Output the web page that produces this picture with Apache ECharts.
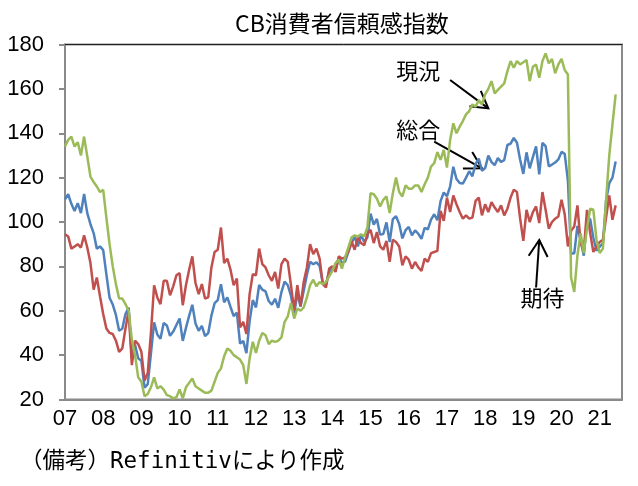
<!DOCTYPE html>
<html>
<head>
<meta charset="utf-8">
<script src="https://cdn.jsdelivr.net/npm/echarts@6/dist/echarts.min.js"></script>
<style>
  html, body { margin: 0; padding: 0; background: #fff; }
  #main { width: 638px; height: 486px; }
</style>
</head>
<body>
<div id="main"></div>
<script>
// 年ラベル（x軸）
const years = ['07', '08', '09', '10', '11', '12', '13', '14', '15', '16', '17', '18', '19', '20', '21'];
const yTicks = [20, 40, 60, 80, 100, 120, 140, 160, 180];

// 月次 2007/1 - 2021/6
// 総合
const sogo = [
  110.2, 112.5, 108.2, 105, 108.5, 104, 112.6, 104, 99, 95, 88, 89,
  87.3, 76.4, 65.9, 62.8, 58.1, 51.0, 51.9, 58.5, 61.4, 38.8, 44.7, 38.6,
  37.4, 25.3, 26.9, 40.8, 54.8, 49.3, 47.4, 54.5, 53.4, 48.7, 50.6, 53.6,
  56.5, 46.4, 52.3, 57.7, 62.7, 54.3, 51.0, 53.2, 48.6, 49.9, 57.8, 63.4,
  64.8, 72.0, 63.8, 66.0, 61.7, 57.6, 59.2, 45.2, 46.4, 40.9, 55.2, 64.8,
  61.5, 71.6, 69.5, 68.7, 64.4, 62.7, 65.4, 61.3, 68.4, 73.1, 71.5, 66.7,
  58.4, 68.0, 61.9, 69.0, 76.2, 82.1, 81.0, 81.8, 80.2, 72.4, 72.0, 77.5,
  79.4, 78.3, 83.9, 81.7, 82.2, 86.4, 90.3, 93.4, 89.0, 94.1, 91.0, 93.1,
  103.8, 98.8, 101.4, 94.3, 94.6, 99.8, 91.0, 101.3, 102.6, 99.1, 92.6, 96.3,
  97.8, 94.0, 96.2, 94.7, 92.4, 97.4, 96.7, 101.1, 103.5, 100.8, 109.4, 113.3,
  111.6, 116.1, 124.9, 119.4, 117.6, 117.3, 120.0, 122.9, 120.6, 126.2, 128.6, 123.1,
  124.3, 130.0, 127.0, 125.6, 128.8, 127.1, 127.9, 134.7, 135.3, 137.9, 135.7, 128.1,
  121.7, 131.4, 124.2, 129.2, 134.1, 121.5, 135.7, 134.2, 125.1, 125.9, 126.8, 128.2,
  131.6, 130.7, 118.8, 85.7, 85.9, 98.3, 91.7, 84.8, 101.3, 101.4, 92.9, 87.1,
  88.9, 90.4, 109.7, 117.5, 120.0, 127.3
];
// 期待
const kitai = [
  94.5, 93.5, 88, 89, 90, 88.5, 94, 88.5, 81.5, 69.5, 75, 66.5,
  58.5, 52, 50, 49.5, 46.5, 41.5, 43, 52, 60, 35.5, 46.5, 45,
  41.5, 28.5, 32, 50, 71.5, 66, 63, 73.5, 73.5, 67, 71, 76,
  77, 62.5, 71.5, 78.5, 84.5, 72.5, 67.5, 72, 65.5, 66, 79.5, 86.5,
  87.5, 97.5, 81.5, 83.5, 78.5, 71.5, 74.5, 52.5, 55, 49.5, 67.5, 76.5,
  76, 88, 81, 79.5, 76, 73.5, 77.5, 70, 81, 83.5, 82, 71.5,
  60, 71.5, 62, 73, 79.5, 90, 85.5, 88, 83.5, 72, 70.5, 79,
  80, 77.5, 84.5, 83.5, 84, 86.5, 91.5, 87.5, 93, 90.5, 89.5, 94.5,
  96.5, 90.5, 95.5, 89, 87.5, 91.5, 82, 92, 91, 89, 80.5, 84.5,
  83, 79, 82, 79.5, 78, 83.5, 82, 86, 86.5, 87, 105, 100.5,
  111, 104.5, 112, 108, 104.5, 101.5, 103, 101.5, 102, 109.5, 111, 103,
  108, 104.5, 109, 106.5, 104.5, 107.5, 103, 106, 111, 114.5, 113.5, 101.5,
  91.5, 105.5, 100, 104.5, 107, 99.5, 113.5, 105.5, 97, 100, 101.5, 102.5,
  110, 103.5, 89, 96, 98, 107.5, 90.5, 87, 105.5, 95, 86.5, 89,
  91, 92, 102, 112, 101, 107.5
];
// 現況
const genkyo = [
  134, 137, 138.5, 134, 136, 130, 138.5, 129.5, 120.5, 118, 116, 113.5,
  114.5, 102, 90, 80, 72, 65.5, 65.5, 63, 60, 47, 40, 30,
  28, 21.5, 22.5, 25.5, 30, 25, 26, 24.5, 22, 21.5, 20.5, 21,
  24.5, 20.5, 25.5, 27.5, 29.5, 26, 25, 24, 23, 23, 24, 28,
  32, 34, 39.5, 43, 42, 40, 39, 38, 35.5, 27, 38.5, 46,
  41, 46.5, 50, 49, 45, 46.5, 46, 46.5, 48, 55, 57.5, 63.5,
  56.5, 61, 60, 61.5, 66, 71.5, 74, 71, 73, 72, 73, 75.5,
  78, 81.5, 83, 79, 84, 88.5, 93, 94, 93.5, 94.5, 93.5, 97.5,
  113, 112.5, 110.5, 107, 110, 111.5, 104, 113, 120, 113.5, 111.5, 116.5,
  115, 115, 116.5, 116.5, 113.5, 117, 120, 125, 126.5, 131.5, 128, 132.5,
  124.5, 137, 144.5, 140, 143, 145.5, 148.5, 150, 153, 152, 155, 153,
  157.5, 160, 163.5, 158, 159.5, 161, 162.5, 168, 172.5, 169.5, 172.5, 171,
  172, 173, 163.5, 170, 171, 165, 172.5, 176, 171.5, 173.5, 167, 171,
  173.5, 168.5, 166.5, 75, 68.5, 85, 95, 86, 97, 106, 105.5, 92,
  86, 88, 110, 130, 144, 157.5
];

// 軸は2021/8まで
const months = [];
years.forEach(function (y) {
  for (let m = 1; m <= 12; m++) months.push(y + '/' + m);
});
const categories = months.slice(0, 14 * 12 + 8);

// 注記（データ座標：[月index, 値]）
const notes = [
  { text: '現況', at: [110.6, 168.1], tail: [121, 164], tip: [132.5, 151.2] },
  { text: '総合', at: [110.6, 141.5], tail: [116.2, 136.2], tip: [131.4, 124.2] },
  { text: '期待', at: [150.2, 65.8], tail: [148.2, 70.5], tip: [148.7, 91.9] }
];

const numFont = "'Liberation Sans', Arial, sans-serif";
const jpFont = "'Noto Sans CJK JP', sans-serif";

const chart = echarts.init(document.getElementById('main'), null, { renderer: 'canvas' });

const option = {
  animation: false,
  backgroundColor: '#fff',
  title: {
    text: 'CB消費者信頼感指数',
    left: 230,
    top: 7,
    textStyle: { fontFamily: jpFont, fontSize: 23, fontWeight: 'normal', color: '#000' }
  },
  grid: {
    left: 65, right: 16, top: 44.5, bottom: 86.5,
    show: true, borderColor: '#8a8a8a', borderWidth: 2, backgroundColor: 'transparent'
  },
  xAxis: [{
    type: 'category',
    data: categories,
    boundaryGap: false,
    axisLine: { lineStyle: { color: '#8a8a8a', width: 2 } },
    axisTick: { show: false },
    splitLine: { show: false },
    axisLabel: {
      interval: function (i) { return i % 12 === 0; },
      formatter: function (v) { return v.split('/')[0]; },
      fontFamily: numFont, fontSize: 22, color: '#000', margin: 8
    }
  }, {
    type: 'category',
    data: categories,
    position: 'top',
    boundaryGap: false,
    axisLine: { lineStyle: { color: '#222', width: 1 } },
    axisTick: { show: false },
    axisLabel: { show: false }
  }],
  yAxis: {
    type: 'value',
    min: yTicks[0],
    max: yTicks[yTicks.length - 1],
    interval: 20,
    axisLine: { show: true, lineStyle: { color: '#8a8a8a', width: 2 } },
    axisTick: { show: true, length: 6, lineStyle: { color: '#8a8a8a', width: 2 } },
    splitLine: { show: false },
    axisLabel: { fontFamily: numFont, fontSize: 22, color: '#000', margin: 21 }
  },
  series: [
    { name: '総合', type: 'line', data: sogo, showSymbol: false, lineStyle: { color: '#4F81BD', width: 2.5 } },
    { name: '期待', type: 'line', data: kitai, showSymbol: false, lineStyle: { color: '#C0504D', width: 2.5 } },
    { name: '現況', type: 'line', data: genkyo, showSymbol: false, lineStyle: { color: '#9BBB59', width: 2.5 } }
  ]
};
chart.setOption(option);

// 矢印と注記
function toPx(p) {
  return chart.convertToPixel({ xAxisIndex: 0, yAxisIndex: 0 }, p);
}
const elements = [];
notes.forEach(function (n) {
  const c = toPx(n.at);
  const a = toPx(n.tail);
  const b = toPx(n.tip);
  elements.push({
    type: 'text', x: c[0], y: c[1],
    style: { text: n.text, fontFamily: jpFont, fontSize: 22, fill: '#000', align: 'center', verticalAlign: 'middle' }
  });
  elements.push({
    type: 'line', shape: { x1: a[0], y1: a[1], x2: b[0], y2: b[1] },
    style: { stroke: '#000', lineWidth: 2 }
  });
  const ang = Math.atan2(a[1] - b[1], a[0] - b[0]);
  const len = 19, spread = Math.PI / 6;
  elements.push({
    type: 'polyline',
    shape: { points: [
      [b[0] + len * Math.cos(ang + spread), b[1] + len * Math.sin(ang + spread)],
      [b[0], b[1]],
      [b[0] + len * Math.cos(ang - spread), b[1] + len * Math.sin(ang - spread)]
    ] },
    style: { stroke: '#000', lineWidth: 2, fill: null }
  });
});
elements.push({
  type: 'text', left: 20, top: 451,
  style: { text: '（備考）Refinitivにより作成', fontFamily: "'DejaVu Sans Mono', 'Noto Sans CJK JP', monospace", fontSize: 22.5, fill: '#000' }
});
chart.setOption({ graphic: elements });
</script>
</body>
</html>
